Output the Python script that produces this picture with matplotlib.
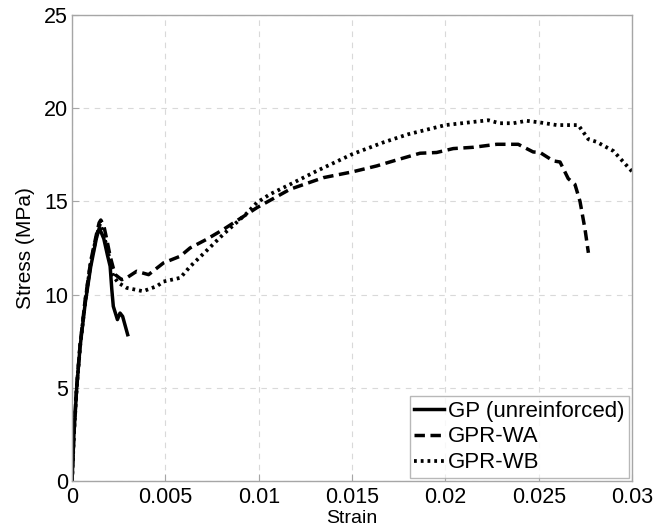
import matplotlib
matplotlib.use("Agg")
import matplotlib.pyplot as plt

plt.rcParams['font.family'] = ['Liberation Sans', 'DejaVu Sans']

gp_strain = [0, 0.0001, 0.00025, 0.00043, 0.0007, 0.001, 0.0013, 0.00146, 0.0017, 0.0019,
             0.00204, 0.00213, 0.00221, 0.00243, 0.00257, 0.00271, 0.00298]
gp_stress = [0, 2.5, 5.0, 7.2, 9.5, 11.5, 13.0, 13.58, 13.0, 12.1,
             11.52, 10.27, 9.37, 8.66, 9.01, 8.83, 7.85]

wa_strain = [0, 0.0001, 0.00025, 0.00043, 0.0007, 0.001, 0.0013, 0.00145, 0.00154, 0.0017,
             0.00186, 0.00204, 0.0023, 0.00266, 0.00293, 0.00346, 0.0041, 0.0049, 0.0058,
             0.00632, 0.0072, 0.0081, 0.00935, 0.0099, 0.01168, 0.01346, 0.01501, 0.01632,
             0.01739, 0.01864, 0.01953, 0.02042, 0.0215, 0.02275, 0.0239, 0.0247, 0.02507,
             0.02578, 0.02614, 0.02658, 0.02694, 0.02721, 0.02748, 0.02766]
wa_stress = [0, 2.6, 5.1, 7.3, 9.7, 11.8, 13.2, 13.85, 14.0, 13.7,
             12.96, 12.06, 11.08, 10.8, 10.9, 11.25, 11.07, 11.7, 12.06,
             12.5, 12.96, 13.49, 14.3, 14.66, 15.65, 16.27, 16.58, 16.9,
             17.22, 17.58, 17.62, 17.83, 17.9, 18.06, 18.06, 17.65, 17.62,
             17.17, 17.11, 16.22, 15.91, 15.0, 13.5, 12.24]

wb_strain = [0, 0.0001, 0.00025, 0.00043, 0.0007, 0.001, 0.0013, 0.0015, 0.00186, 0.0022,
             0.00248, 0.00293, 0.0038, 0.00454, 0.0049, 0.0058, 0.00632, 0.0072, 0.0081,
             0.00935, 0.0099, 0.0106, 0.01168, 0.01311, 0.01501, 0.01667, 0.01801, 0.02,
             0.0223, 0.0229, 0.02364, 0.02435, 0.02507, 0.02596, 0.02712, 0.02766, 0.0281,
             0.029, 0.03]
wb_stress = [0, 2.5, 5.0, 7.2, 9.6, 11.7, 13.1, 13.8, 12.6, 11.0,
             10.63, 10.36, 10.18, 10.45, 10.7, 10.9, 11.5, 12.35, 13.23,
             14.35, 14.93, 15.38, 15.91, 16.63, 17.53, 18.16, 18.6, 19.09,
             19.35, 19.19, 19.19, 19.32, 19.23, 19.09, 19.09, 18.33, 18.19,
             17.7, 16.6]

x_ticks = [0, 0.005, 0.01, 0.015, 0.02, 0.025, 0.03]
x_ticklabels = ['0', '0.005', '0.01', '0.015', '0.02', '0.025', '0.03']
y_ticks = [0, 5, 10, 15, 20, 25]

fig = plt.figure(figsize=(6.55, 5.31), dpi=100)
ax = fig.add_axes([0.110, 0.094, 0.855, 0.878])

ax.plot(gp_strain, gp_stress, color='black', lw=2.5, linestyle='-', label='GP (unreinforced)')
ax.plot(wa_strain, wa_stress, color='black', lw=2.5, linestyle=(0, (3.0, 1.6)), label='GPR-WA')
ax.plot(wb_strain, wb_stress, color='black', lw=2.7, linestyle=(0, (0.75, 1.05)), label='GPR-WB')

ax.set_xlim(0, 0.03)
ax.set_ylim(0, 25)
ax.set_xticks(x_ticks)
ax.set_xticklabels(x_ticklabels)
ax.set_yticks(y_ticks)
ax.grid(True, color='#d9d9d9', linestyle=(0, (5, 5)), linewidth=0.8)
ax.set_axisbelow(True)
for s in ax.spines.values():
    s.set_color('#a6a6a6')
    s.set_linewidth(1.0)
ax.tick_params(direction='in', length=5, color='#a6a6a6', labelsize=15.5,
               top=False, right=False)
ax.tick_params(axis='x', pad=4)
ax.tick_params(axis='y', pad=3)
ax.set_xlabel('Strain', fontsize=14, labelpad=2)
ax.set_ylabel('Stress (MPa)', fontsize=15, labelpad=6)

leg = ax.legend(loc='lower right', fontsize=16, frameon=True, fancybox=False,
                handlelength=1.35, handletextpad=0.15, borderpad=0.2, labelspacing=0.22,
                borderaxespad=0.15, edgecolor='#a6a6a6')
leg.get_frame().set_linewidth(1.0)

fig.savefig('out.png', dpi=100)
